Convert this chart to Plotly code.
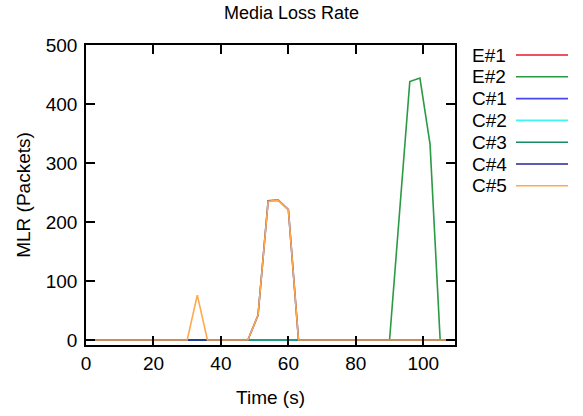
import plotly.graph_objects as go

time_s = [0, 3, 6, 9, 12, 15, 18, 21, 24, 27, 30, 33, 36, 39, 42, 45, 48, 51, 54, 57,
          60, 63, 66, 69, 72, 75, 78, 81, 84, 87, 90, 93, 96, 99, 102, 105, 108]

def zeros():
    return [0] * len(time_s)

def with_values(pairs):
    v = zeros()
    for t, val in pairs.items():
        v[time_s.index(t)] = val
    return v

e1 = zeros()
e2 = with_values({93: 219, 96: 438, 99: 444, 102: 332})
c1 = zeros()
c2 = zeros()
c3 = zeros()
c4 = with_values({51: 42, 54: 236, 57: 237, 60: 221})
c5 = with_values({33: 76, 51: 42, 54: 235, 57: 237, 60: 221})

series_names = ["E#1", "E#2", "C#1", "C#2", "C#3", "C#4", "C#5"]
series_values = [e1, e2, c1, c2, c3, c4, c5]
series_colors = ["#e8182c", "#2a9a44", "#4848f0", "#40f4f4", "#148a66", "#242496", "#ffa84c"]

x_ticks = [0, 20, 40, 60, 80, 100]
y_ticks = [0, 100, 200, 300, 400, 500]

W, H = 583, 416
PL, PR, PT, PB = 86, 455, 45, 345   # plot frame in pixels
ML, MT = PL, PT
PW, PH = PR - PL, PB - PT
MR = W - ML - PW
MB = H - MT - PH

fig = go.Figure()
for name, vals, col in zip(series_names, series_values, series_colors):
    fig.add_trace(go.Scatter(x=time_s, y=vals, mode="lines", name=name,
                             line=dict(color=col, width=1.6), showlegend=False))

font = "Liberation Sans, Arial, sans-serif"

# custom gnuplot-style legend (label then line sample), pixel -> paper
def px_x(p):
    return (p - PL) / PW

def px_y(p):
    return 1 - (p - PT) / PH

for i, (name, col) in enumerate(zip(series_names, series_colors)):
    yy = 55 + i * 21.8
    fig.add_annotation(x=px_x(470), y=px_y(yy), xref="paper", yref="paper",
                       text=name, showarrow=False, xanchor="left", yanchor="middle",
                       font=dict(family=font, size=19, color="#000"))
    fig.add_shape(type="line", xref="paper", yref="paper",
                  x0=px_x(516), x1=px_x(568), y0=px_y(yy), y1=px_y(yy),
                  line=dict(color=col, width=1.6))

axis_common = dict(showgrid=False, zeroline=False, showline=True, linecolor="#000",
                   linewidth=1.5, mirror="ticks", ticks="inside", ticklen=9,
                   tickwidth=1.5, tickcolor="#000", automargin=False,
                   tickfont=dict(family=font, size=19, color="#000"))

fig.update_layout(
    width=W, height=H,
    margin=dict(l=ML, r=MR, t=MT, b=MB, autoexpand=False),
    paper_bgcolor="white", plot_bgcolor="white",
    title=dict(text="Media Loss Rate", x=0.5, xref="container", xanchor="center",
               y=1 - 13 / H, yanchor="middle",
               font=dict(family=font, size=18, color="#000")),
    xaxis=dict(range=[0, 109.4], tickvals=x_ticks, ticktext=[str(t) for t in x_ticks],
               title=dict(text="Time (s)", font=dict(family=font, size=19, color="#000"),
                          standoff=18),
               ticklabelstandoff=0, **axis_common),
    yaxis=dict(range=[-8.5, 500], tickvals=y_ticks, ticktext=[str(t) for t in y_ticks],
               title=dict(text="MLR (Packets)", font=dict(family=font, size=19, color="#000"),
                          standoff=10),
               ticklabelstandoff=3, **axis_common),
)

fig.write_html("out.html", config={"displayModeBar": False},
               post_script="document.body.style.margin='0';document.body.style.padding='0';")
